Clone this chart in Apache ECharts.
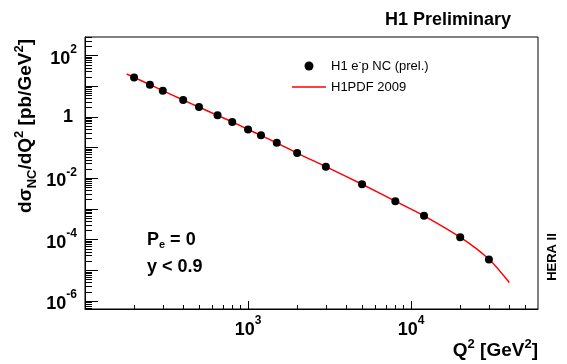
<!DOCTYPE html>
<html><head><meta charset="utf-8">
<script src="https://cdn.jsdelivr.net/npm/echarts@6/dist/echarts.min.js"></script>
<style>html,body{margin:0;padding:0;background:#fff}#c{width:567px;height:364px}</style>
</head><body><div id="c"></div>
<script>
// ---- data ----
const q2 = [200, 250, 300, 400, 500, 650, 800, 1000, 1200, 1500, 2000, 3000, 5000, 8000, 12000, 20000, 30000];
const xsec = [19.4, 11.2, 7.17, 3.55, 2.11, 1.13, 0.688, 0.390, 0.251, 0.143, 0.0664, 0.0239, 0.00641, 0.00180, 0.00060, 0.000119, 0.0000225];
const curveQ2 = [180, 200, 250, 300, 400, 500, 650, 800, 1000, 1200, 1500, 2000, 3000, 5000, 8000, 12000, 20000, 30000, 40000];
const curveXsec = [25, 19.5, 11.3, 7.2, 3.55, 2.1, 1.12, 0.69, 0.39, 0.25, 0.143, 0.066, 0.024, 0.0064, 0.0018, 0.0006, 0.00012, 0.000023, 0.000004];
const xRange = [100, 60000];
const yRange = [5.5e-7, 403];
const xMajorTicks = [100, 1000, 10000];
const xLabelTicks = [1000, 10000];
const yMajorTicks = [1e-6, 1e-5, 1e-4, 1e-3, 1e-2, 1e-1, 1, 10, 100];
const yLabelTicks = [1e-6, 1e-4, 1e-2, 1, 100];
const xDecades = [100, 1000, 10000];
const yDecades = [1e-7, 1e-6, 1e-5, 1e-4, 1e-3, 1e-2, 1e-1, 1, 10, 100];
const minorMultipliers = [2, 3, 4, 5, 6, 7, 8, 9];
const seriesNames = ['H1 e{s|-}p NC (prel.)', 'H1PDF 2009'];

// ---- build ----
const L = Math.log10;
const FF = "'Liberation Sans', Arial, Helvetica, sans-serif";
function minors(decades, range) {
  const out = [];
  decades.forEach(d => minorMultipliers.forEach(m => {
    const v = d * m;
    if (v > range[0] && v < range[1]) out.push(L(v));
  }));
  return out;
}
const xMin = L(xRange[0]), xMax = L(xRange[1]);
const yMin = L(yRange[0]), yMax = L(yRange[1]);
function powLabel(v) {
  const e = Math.round(v);
  if (e === 0) return '{one|1}';
  return '{b|10}{s|' + e + '}';
}
const tickRich = {
  b: {fontFamily: FF, fontSize: 18, fontWeight: 'bold', color: '#000', lineHeight: 24, verticalAlign: 'bottom'},
  s: {fontFamily: FF, fontSize: 12, fontWeight: 'bold', color: '#000', lineHeight: 12, verticalAlign: 'top'},
  one: {fontFamily: FF, fontSize: 18, fontWeight: 'bold', color: '#000', lineHeight: 24, padding: [0, 4, 0, 0]}
};
const baseAxis = (min, max) => ({
  type: 'value', min: min, max: max, splitLine: {show: false}, scale: true
});

const chart = echarts.init(document.getElementById('c'), null, {renderer: 'canvas'});
chart.setOption({
  animation: false,
  backgroundColor: '#fff',
  grid: {left: 85, right: 29, top: 37, bottom: 55, show: true, borderColor: '#000', borderWidth: 1,
         backgroundColor: 'transparent', containLabel: false, outerBoundsMode: 'none'},
  legend: {
    orient: 'vertical', left: 292, top: 58, padding: 0, itemGap: 5,
    itemWidth: 34, itemHeight: 9,
    selectedMode: false,
    data: [
      {name: seriesNames[0], icon: 'circle', itemStyle: {color: '#000', opacity: 1}},
      {name: seriesNames[1], icon: 'path://M0,0H34V1.5H0Z', itemStyle: {color: '#ff0000', opacity: 1}}
    ],
    formatter: n => n,
    textStyle: {fontFamily: FF, fontSize: 13, color: '#000', lineHeight: 16,
      rich: {s: {fontFamily: FF, fontSize: 9, color: '#000', lineHeight: 9, verticalAlign: 'top'}}}
  },
  xAxis: [
    Object.assign(baseAxis(xMin, xMax), {
      position: 'bottom',
      axisLine: {show: true, onZero: false, lineStyle: {color: '#000', width: 1}},
      axisTick: {show: true, inside: true, length: 8, lineStyle: {color: '#000'}, customValues: xMajorTicks.map(L)},
      axisLabel: {show: true, margin: 6, customValues: xLabelTicks.map(L), formatter: powLabel, rich: tickRich}
    }),
    Object.assign(baseAxis(xMin, xMax), {
      position: 'bottom',
      axisLine: {show: false, onZero: false},
      axisTick: {show: true, inside: true, length: 4, lineStyle: {color: '#000'}, customValues: minors(xDecades, xRange)},
      axisLabel: {show: false}
    })
  ],
  yAxis: [
    Object.assign(baseAxis(yMin, yMax), {
      position: 'left',
      axisLine: {show: true, onZero: false, lineStyle: {color: '#000', width: 1}},
      axisTick: {show: true, inside: true, length: 13, lineStyle: {color: '#000'}, customValues: yMajorTicks.map(L)},
      axisLabel: {show: true, margin: 8, customValues: yLabelTicks.map(L), formatter: powLabel, rich: tickRich}
    }),
    Object.assign(baseAxis(yMin, yMax), {
      position: 'left', offset: 0,
      axisLine: {show: false, onZero: false},
      axisTick: {show: true, inside: true, length: 7, lineStyle: {color: '#000'}, customValues: minors(yDecades, yRange)},
      axisLabel: {show: false}
    })
  ],
  series: [
    {
      name: seriesNames[1], type: 'line', xAxisIndex: 0, yAxisIndex: 0,
      data: curveQ2.map((q, i) => [L(q), L(curveXsec[i])]),
      symbol: 'none', showSymbol: false, smooth: 0.3, color: '#ff0000',
      lineStyle: {color: '#ff0000', width: 1.5}, z: 2
    },
    {
      name: seriesNames[0], type: 'scatter', xAxisIndex: 0, yAxisIndex: 0,
      data: q2.map((q, i) => [L(q), L(xsec[i])]),
      symbol: 'circle', symbolSize: 8, color: '#000',
      itemStyle: {color: '#000', opacity: 1}, z: 3
    }
  ],
  graphic: [
    {type: 'text', x: 385, y: 20, style: {text: 'H1 Preliminary', font: 'bold 18px ' + FF, fill: '#000', align: 'left', verticalAlign: 'middle'}},
    {type: 'text', x: 147, y: 240, style: {text: '{b|P}{sub|e}{b| = 0}', align: 'left', verticalAlign: 'middle',
      rich: {b: {fontFamily: FF, fontSize: 18, fontWeight: 'bold', color: '#000', lineHeight: 20, verticalAlign: 'middle'},
             sub: {fontFamily: FF, fontSize: 11, fontWeight: 'bold', color: '#000', lineHeight: 11, verticalAlign: 'bottom'}}}},
    {type: 'text', x: 147, y: 267, style: {text: 'y < 0.9', font: 'bold 18px ' + FF, fill: '#000', align: 'left', verticalAlign: 'middle'}},
    {type: 'text', x: 552, y: 257, rotation: Math.PI / 2, style: {text: 'HERA II', font: 'bold 13px ' + FF, fill: '#000', align: 'center', verticalAlign: 'middle'}},
    {type: 'text', x: 26, y: 126, rotation: Math.PI / 2, style: {text: '{b|dσ}{sub|NC}{b|/dQ}{sup|2}{b| [pb/GeV}{sup|2}{b|]}', align: 'center', verticalAlign: 'middle',
      rich: {b: {fontFamily: FF, fontSize: 19, fontWeight: 'bold', color: '#000', lineHeight: 26, verticalAlign: 'middle'},
             sub: {fontFamily: FF, fontSize: 13, fontWeight: 'bold', color: '#000', lineHeight: 13, verticalAlign: 'bottom'},
             sup: {fontFamily: FF, fontSize: 13, fontWeight: 'bold', color: '#000', lineHeight: 13, verticalAlign: 'top'}}}},
    {type: 'text', x: 538, y: 351, style: {text: '{b|Q}{sup|2}{b| [GeV}{sup|2}{b|]}', align: 'right', verticalAlign: 'middle',
      rich: {b: {fontFamily: FF, fontSize: 19, fontWeight: 'bold', color: '#000', lineHeight: 26, verticalAlign: 'middle'},
             sup: {fontFamily: FF, fontSize: 13, fontWeight: 'bold', color: '#000', lineHeight: 13, verticalAlign: 'top'}}}}
  ]
});
</script>
</body></html>
